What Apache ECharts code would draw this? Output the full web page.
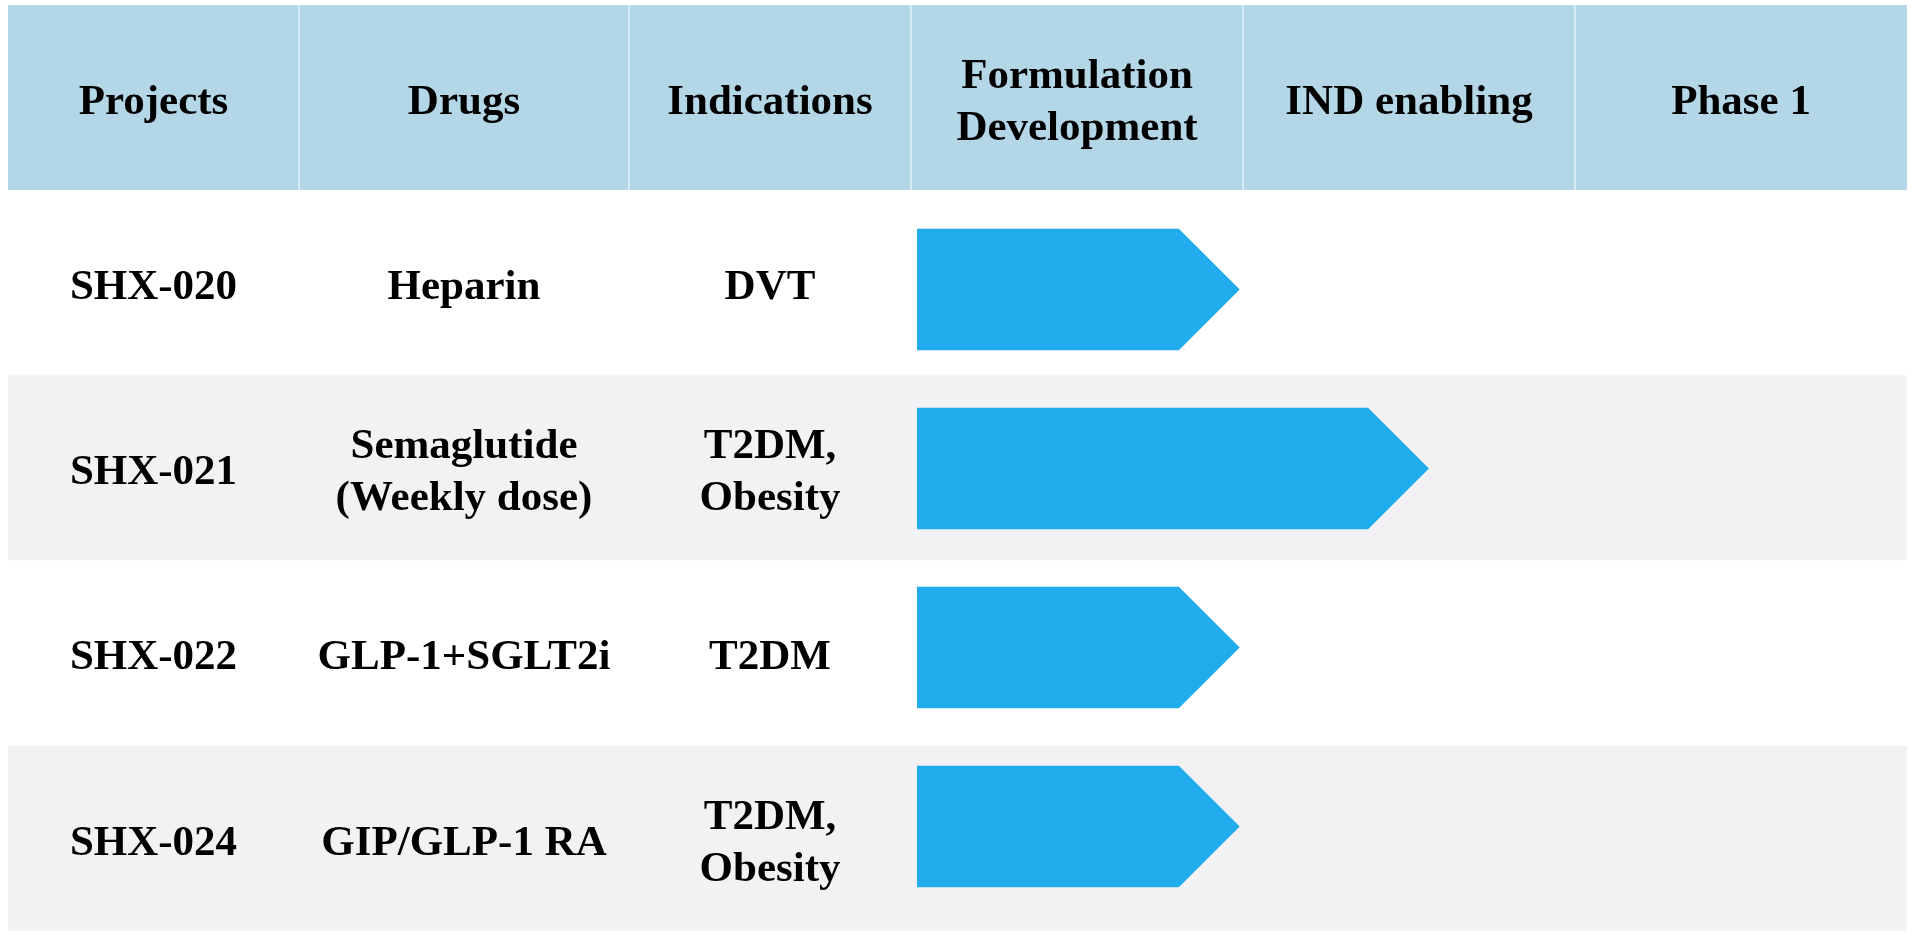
<!DOCTYPE html>
<html>
<head>
<meta charset="utf-8">
<style>
  html, body { margin: 0; padding: 0; background: #fff; }
  #container { width: 1914px; height: 936px; }
</style>
<script src="https://cdn.jsdelivr.net/npm/echarts@6/dist/echarts.min.js"></script>
</head>
<body>
<div id="container"></div>
<script>
;(function() {

  // table content
  var headers = ['Projects', 'Drugs', 'Indications', 'Formulation\nDevelopment', 'IND enabling', 'Phase 1']
  var projects = ['SHX-020', 'SHX-021', 'SHX-022', 'SHX-024']
  var drugs = ['Heparin', 'Semaglutide\n(Weekly dose)', 'GLP-1+SGLT2i', 'GIP/GLP-1 RA']
  var indications = ['DVT', 'T2DM,\nObesity', 'T2DM', 'T2DM,\nObesity']
  // how far each project got, in stages (Formulation = 0..1, IND = 1..2, Phase 1 = 2..3)
  var progress = [0.99, 1.56, 0.99, 0.99]
  var stageCount = 3

  // layout
  var colWidths = [291, 330, 282, 332, 332, 332]
  var tableLeft = 8, tableRight = 7
  var headerColor = '#b4d7e7'
  var stripeColor = '#f2f2f4'
  var arrowColor = '#21acee'
  var font = 'bold 43px "Liberation Serif", "Times New Roman", serif'

  var colEdges = [0]
  for (var i = 0; i < colWidths.length; i++) colEdges.push(colEdges[i] + colWidths[i])
  var tableWidth = colEdges[colEdges.length - 1]
  var stageLeft = tableLeft + colEdges[3]

  var rowNames = ['header'].concat(projects)
  var tableData = rowNames.map(function(n, i) { return [0, i] })
  var arrowData = progress.map(function(p, i) { return [p, i] })

  function cellTexts(row) {
    if (row === 0) return headers
    return [projects[row - 1], drugs[row - 1], indications[row - 1]]
  }

  function renderRow(params, api) {
    var row = api.value(1)
    var yc = api.coord([0, row])[1]
    var h = api.size([0, 1])[1]
    var xl = api.coord([0, row])[0]
    var xr = api.coord([tableWidth, row])[0]
    var children = []
    var fill = row === 0 ? headerColor : (row % 2 === 0 ? stripeColor : '#ffffff')
    children.push({
      type: 'rect',
      shape: { x: xl, y: yc - h / 2, width: xr - xl, height: h },
      style: { fill: fill }
    })
    if (row === 0) {
      for (var c = 1; c < colEdges.length - 1; c++) {
        var xd = api.coord([colEdges[c], row])[0]
        children.push({
          type: 'rect',
          shape: { x: xd - 1, y: yc - h / 2, width: 2, height: h },
          style: { fill: '#d8ebf3' }
        })
      }
    }
    var texts = cellTexts(row)
    for (var k = 0; k < texts.length; k++) {
      var xc = api.coord([(colEdges[k] + colEdges[k + 1]) / 2, row])[0]
      children.push({
        type: 'text',
        style: {
          text: texts[k],
          x: xc,
          y: yc + 5,
          align: 'center',
          verticalAlign: 'middle',
          font: font,
          lineHeight: 52,
          fill: '#000'
        }
      })
    }
    return { type: 'group', children: children }
  }

  function renderArrow(params, api) {
    var row = api.value(1)
    var start = api.coord([0, row])
    var end = api.coord([api.value(0), row])
    var h = api.size([0, 1])[1] * 0.68
    var x0 = start[0] + 6
    var x1 = end[0]
    var yc = start[1]
    var tip = h / 2
    return {
      type: 'polygon',
      shape: {
        points: [
          [x0, yc - h / 2],
          [x1 - tip, yc - h / 2],
          [x1, yc],
          [x1 - tip, yc + h / 2],
          [x0, yc + h / 2]
        ]
      },
      style: { fill: arrowColor }
    }
  }

  var dom = document.getElementById('container')
  var myChart = echarts.init(dom)

  var option = {
    animation: false,
    backgroundColor: '#ffffff',
    grid: [
      { left: tableLeft, right: tableRight, top: 5, bottom: 5 },
      { left: stageLeft, right: tableRight, top: 200, bottom: 20 }
    ],
    xAxis: [
      { type: 'value', gridIndex: 0, min: 0, max: tableWidth, show: false },
      { type: 'value', gridIndex: 1, min: 0, max: stageCount, show: false }
    ],
    yAxis: [
      { type: 'category', gridIndex: 0, data: rowNames, inverse: true, show: false },
      { type: 'category', gridIndex: 1, data: projects, inverse: true, show: false }
    ],
    series: [
      {
        name: 'table',
        type: 'custom',
        xAxisIndex: 0,
        yAxisIndex: 0,
        renderItem: renderRow,
        data: tableData,
        silent: true
      },
      {
        name: 'progress',
        type: 'custom',
        xAxisIndex: 1,
        yAxisIndex: 1,
        renderItem: renderArrow,
        data: arrowData,
        z: 3
      }
    ]
  }

  myChart.setOption(option)
})()
</script>
</body>
</html>
